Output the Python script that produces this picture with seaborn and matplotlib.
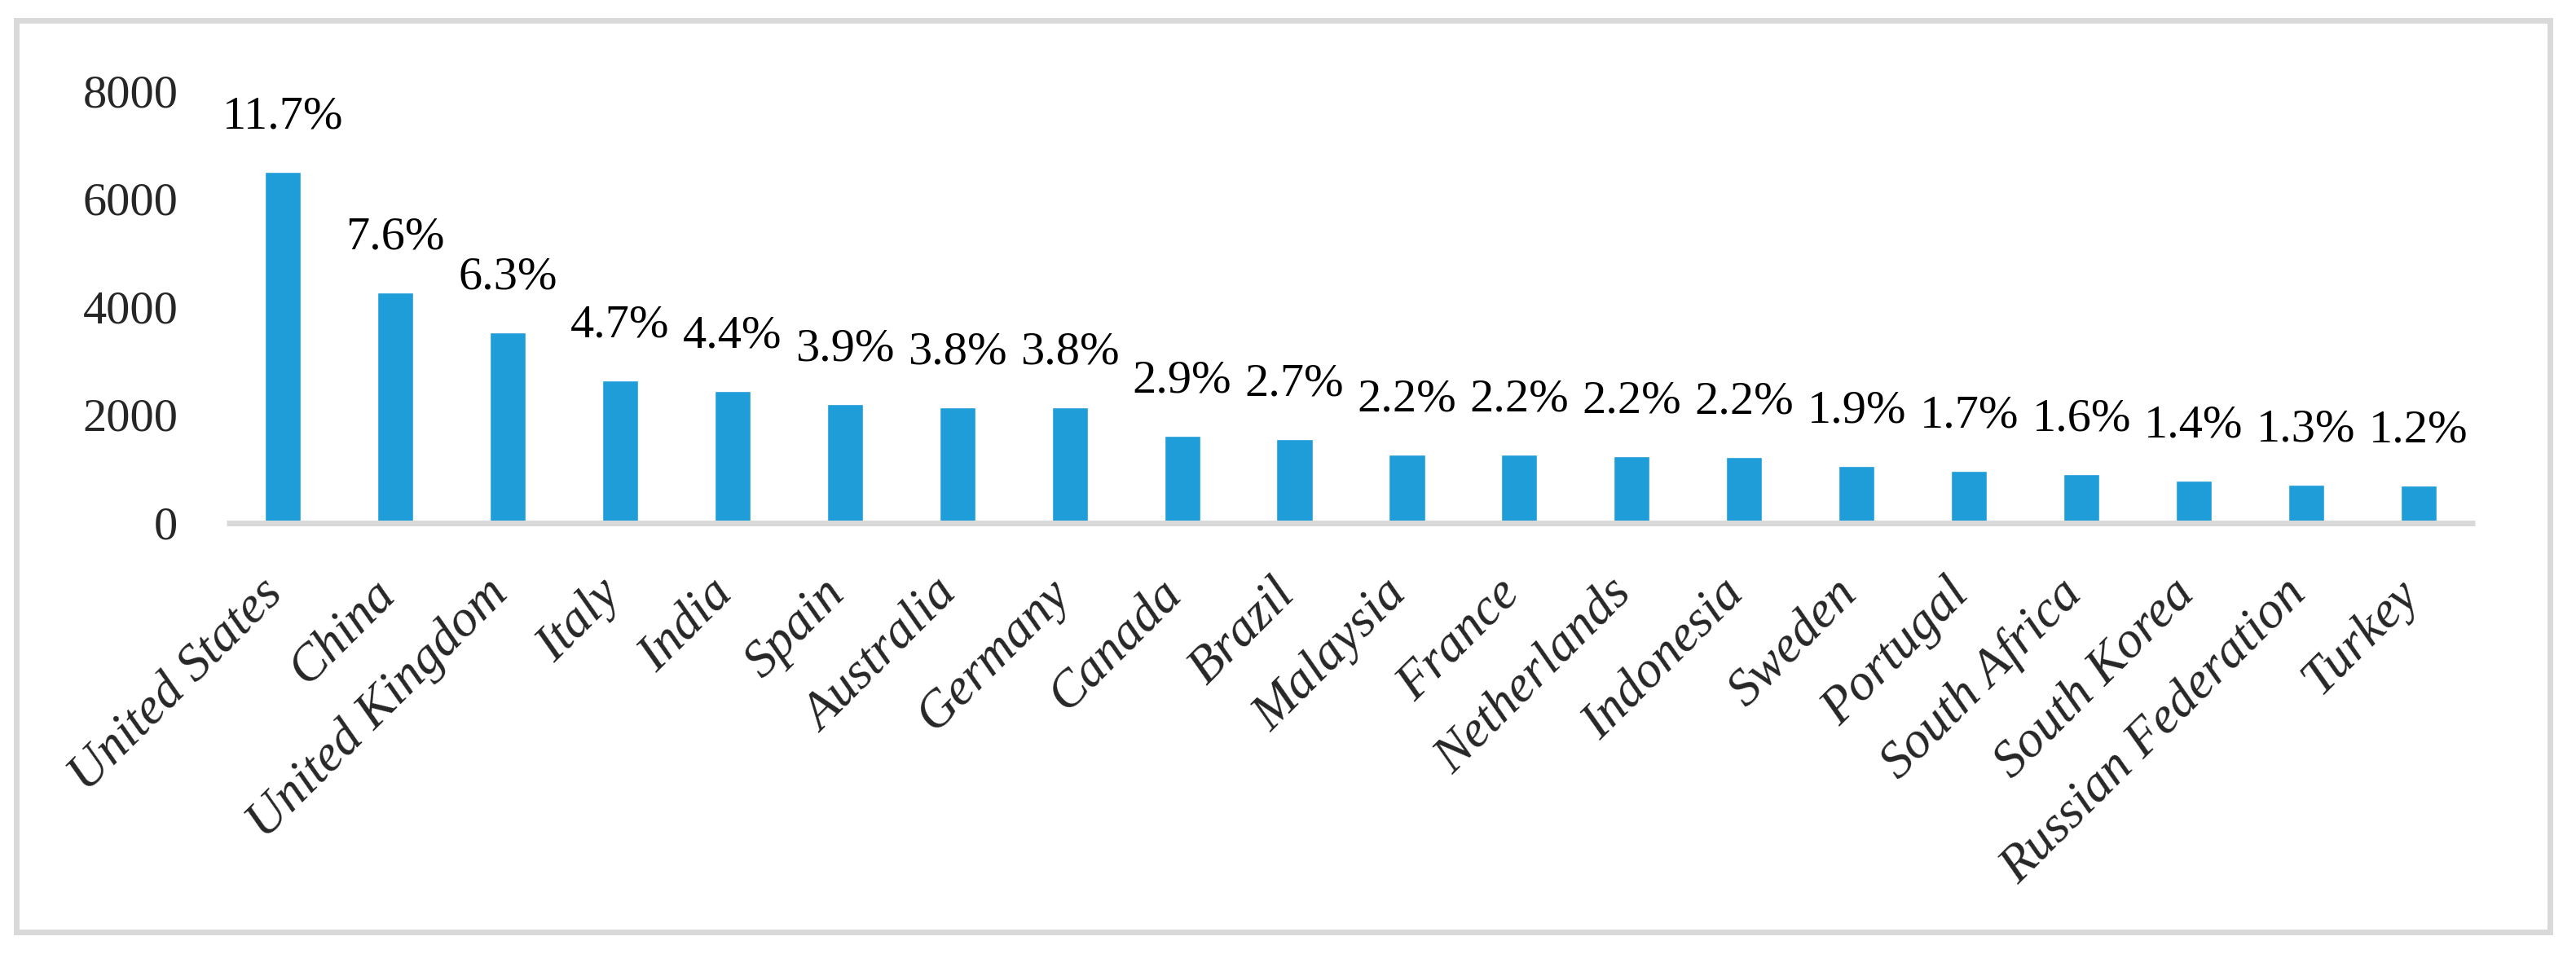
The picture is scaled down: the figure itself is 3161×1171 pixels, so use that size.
import matplotlib
matplotlib.use("Agg")
import matplotlib.pyplot as plt
import matplotlib.transforms as mtransforms
from matplotlib.patches import Rectangle
import seaborn as sns
import pandas as pd

countries = ["United States", "China", "United Kingdom", "Italy", "India", "Spain",
             "Australia", "Germany", "Canada", "Brazil", "Malaysia", "France",
             "Netherlands", "Indonesia", "Sweden", "Portugal", "South Africa",
             "South Korea", "Russian Federation", "Turkey"]
values = [6493, 4261, 3522, 2632, 2436, 2195, 2134, 2134, 1606, 1546,
          1259, 1259, 1229, 1214, 1048, 958, 897, 777, 701, 686]
shares = ["11.7%", "7.6%", "6.3%", "4.7%", "4.4%", "3.9%", "3.8%", "3.8%", "2.9%", "2.7%",
          "2.2%", "2.2%", "2.2%", "2.2%", "1.9%", "1.7%", "1.6%", "1.4%", "1.3%", "1.2%"]
yticks = [0, 2000, 4000, 6000, 8000]

sns.set_theme(style="white")
plt.rcParams["font.family"] = ["Liberation Serif", "DejaVu Serif"]

W, H, DPI = 3161, 1171, 100
fig = plt.figure(figsize=(W / DPI, H / DPI), dpi=DPI)
fig.patch.set_facecolor("white")

# outer light-grey frame
fig.patches.append(Rectangle((19.5 / W, 1 - 1143.5 / H), (3128.5 - 19.5) / W, (1143.5 - 24.5) / H,
                             transform=fig.transFigure, fill=False, edgecolor="#d9d9d9",
                             linewidth=7 * 72 / DPI))

ax = fig.add_axes([278 / W, 1 - 641.5 / H, (3037 - 278) / W, (641.5 - 111) / H])

df = pd.DataFrame({"country": countries, "value": values})
sns.barplot(data=df, x="country", y="value", color="#1E9DD8", saturation=1,
            width=0.32, ax=ax, errorbar=None)

ax.set_xlim(-0.5, len(countries) - 0.5)
ax.set_ylim(0, 8000)
ax.set_yticks(yticks)
ax.set_yticklabels([str(t) for t in yticks], fontsize=42)
ax.set_xlabel("")
ax.set_ylabel("")

for s in ["top", "right", "left"]:
    ax.spines[s].set_visible(False)
ax.spines["bottom"].set_color("#d9d9d9")
ax.spines["bottom"].set_linewidth(7 * 72 / DPI)
ax.spines["bottom"].set_capstyle("butt")

ax.tick_params(axis="y", length=0, pad=43)
ax.tick_params(axis="x", length=0, pad=42)
ax.set_xticks(range(len(countries)))
ax.set_xticklabels(countries, rotation=45, ha="right", va="top",
                   fontsize=46, fontstyle="italic")
offset = mtransforms.ScaledTranslation(12 / DPI, 0, fig.dpi_scale_trans)
for lab in ax.get_xticklabels():
    lab.set_transform(lab.get_transform() + offset)

ax.bar_label(ax.containers[0], labels=shares, padding=30, fontsize=42, color="black")

fig.savefig("out.png", dpi=DPI, facecolor="white")
